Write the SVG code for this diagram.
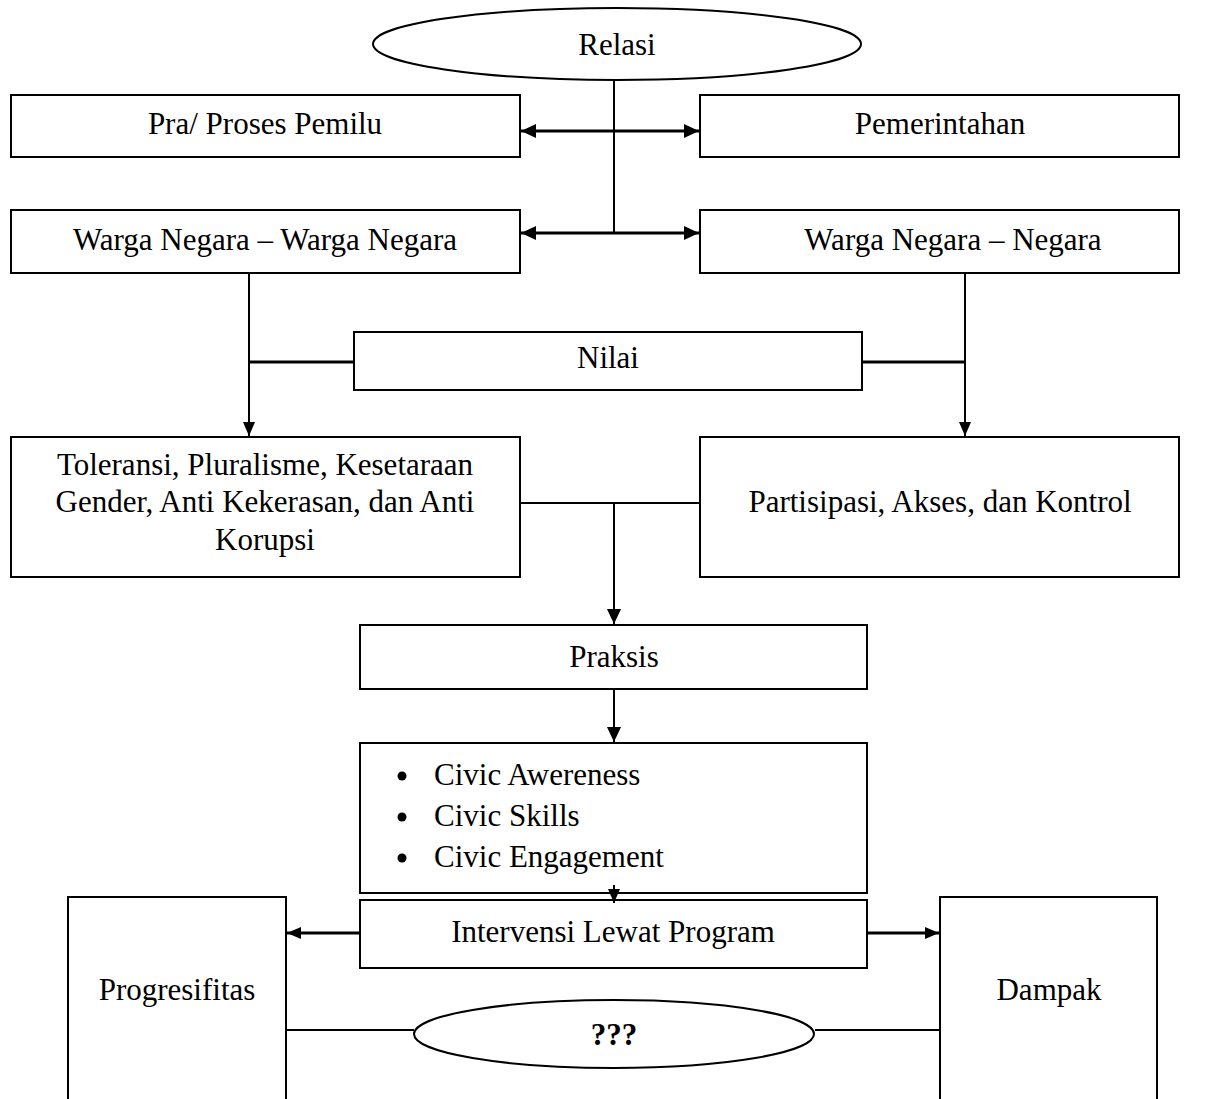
<svg xmlns="http://www.w3.org/2000/svg" width="1216" height="1099" viewBox="0 0 1216 1099">
<style>
.box{fill:#fff;stroke:#000;stroke-width:2}
.ln{fill:none;stroke:#000;stroke-width:2}
.thk{stroke-width:3}
.t{font-family:"Liberation Serif","Times New Roman",serif;font-size:31px;fill:#000;text-anchor:middle}
.tl{font-family:"Liberation Serif","Times New Roman",serif;font-size:31px;fill:#000}
.b{font-weight:bold}
</style>
<defs>
<marker id="ah" viewBox="0 0 14 12" refX="14" refY="6" markerWidth="14" markerHeight="12" markerUnits="userSpaceOnUse" orient="auto-start-reverse">
<path d="M0,0 L14,6 L0,12 z" fill="#000"/>
</marker>
<marker id="ahb" viewBox="0 0 15 14" refX="15" refY="7" markerWidth="15" markerHeight="14" markerUnits="userSpaceOnUse" orient="auto-start-reverse">
<path d="M0,0 L15,7 L0,14 z" fill="#000"/>
</marker>
</defs>
<g id="relasi">
<ellipse class="box" cx="617" cy="44" rx="244" ry="36"/>
<text class="t" x="617" y="55">Relasi</text>
</g>
<g id="pra">
<rect class="box" x="11" y="95" width="509" height="62"/>
<text class="t" x="265" y="134">Pra/ Proses Pemilu</text>
</g>
<g id="pemerintahan">
<rect class="box" x="700" y="95" width="479" height="62"/>
<text class="t" x="940" y="134">Pemerintahan</text>
</g>
<g id="wnwn">
<rect class="box" x="11" y="210" width="509" height="63"/>
<text class="t" x="265" y="250">Warga Negara – Warga Negara</text>
</g>
<g id="wnn">
<rect class="box" x="700" y="210" width="479" height="63"/>
<text class="t" x="953" y="250">Warga Negara – Negara</text>
</g>
<g id="nilai">
<rect class="box" x="354" y="332" width="508" height="58"/>
<text class="t" x="608" y="368">Nilai</text>
</g>
<g id="toleransi">
<rect class="box" x="11" y="437" width="509" height="140"/>
<text class="t" x="265" y="475">Toleransi, Pluralisme, Kesetaraan</text>
<text class="t" x="265" y="512">Gender, Anti Kekerasan, dan Anti</text>
<text class="t" x="265" y="550">Korupsi</text>
</g>
<g id="partisipasi">
<rect class="box" x="700" y="437" width="479" height="140"/>
<text class="t" x="940" y="512">Partisipasi, Akses, dan Kontrol</text>
</g>
<g id="praksis">
<rect class="box" x="360" y="625" width="507" height="64"/>
<text class="t" x="614" y="667">Praksis</text>
</g>
<g id="civic">
<rect class="box" x="360" y="743" width="507" height="150"/>
<circle cx="402" cy="776" r="4.5" fill="#000"/>
<circle cx="402" cy="817" r="4.5" fill="#000"/>
<circle cx="402" cy="858" r="4.5" fill="#000"/>
<text class="tl" x="434" y="785">Civic Awereness</text>
<text class="tl" x="434" y="826">Civic Skills</text>
<text class="tl" x="434" y="867">Civic Engagement</text>
</g>
<g id="intervensi">
<rect class="box" x="360" y="900" width="507" height="68"/>
<text class="t" x="613" y="942">Intervensi Lewat Program</text>
</g>
<g id="progresifitas">
<rect class="box" x="68" y="897" width="218" height="210"/>
<text class="t" x="177" y="1000">Progresifitas</text>
</g>
<g id="dampak">
<rect class="box" x="940" y="897" width="217" height="210"/>
<text class="t" x="1049" y="1000">Dampak</text>
</g>
<g id="q">
<ellipse class="box" cx="614" cy="1034" rx="200" ry="34"/>
<text class="t b" x="614" y="1045">???</text>
</g>
<g id="connectors">
<line class="ln" x1="614" y1="80" x2="614" y2="233"/>
<line class="ln thk" x1="521" y1="131" x2="699" y2="131" marker-start="url(#ahb)" marker-end="url(#ahb)"/>
<line class="ln thk" x1="521" y1="233" x2="699" y2="233" marker-start="url(#ahb)" marker-end="url(#ahb)"/>
<line class="ln" x1="249" y1="274" x2="249" y2="436" marker-end="url(#ah)"/>
<line class="ln" x1="965" y1="274" x2="965" y2="436" marker-end="url(#ah)"/>
<line class="ln thk" x1="249" y1="362" x2="354" y2="362"/>
<line class="ln thk" x1="862" y1="362" x2="965" y2="362"/>
<line class="ln" x1="520" y1="503" x2="700" y2="503"/>
<line class="ln" x1="614" y1="503" x2="614" y2="624" marker-end="url(#ahb)"/>
<line class="ln" x1="614" y1="690" x2="614" y2="742" marker-end="url(#ahb)"/>
<line class="ln" x1="614" y1="885" x2="614" y2="903" marker-end="url(#ah)"/>
<line class="ln thk" x1="360" y1="933" x2="287" y2="933" marker-end="url(#ah)"/>
<line class="ln thk" x1="867" y1="933" x2="939" y2="933" marker-end="url(#ah)"/>
<line class="ln" x1="286" y1="1030" x2="414" y2="1030"/>
<line class="ln" x1="815" y1="1030" x2="940" y2="1030"/>
</g>
</svg>
